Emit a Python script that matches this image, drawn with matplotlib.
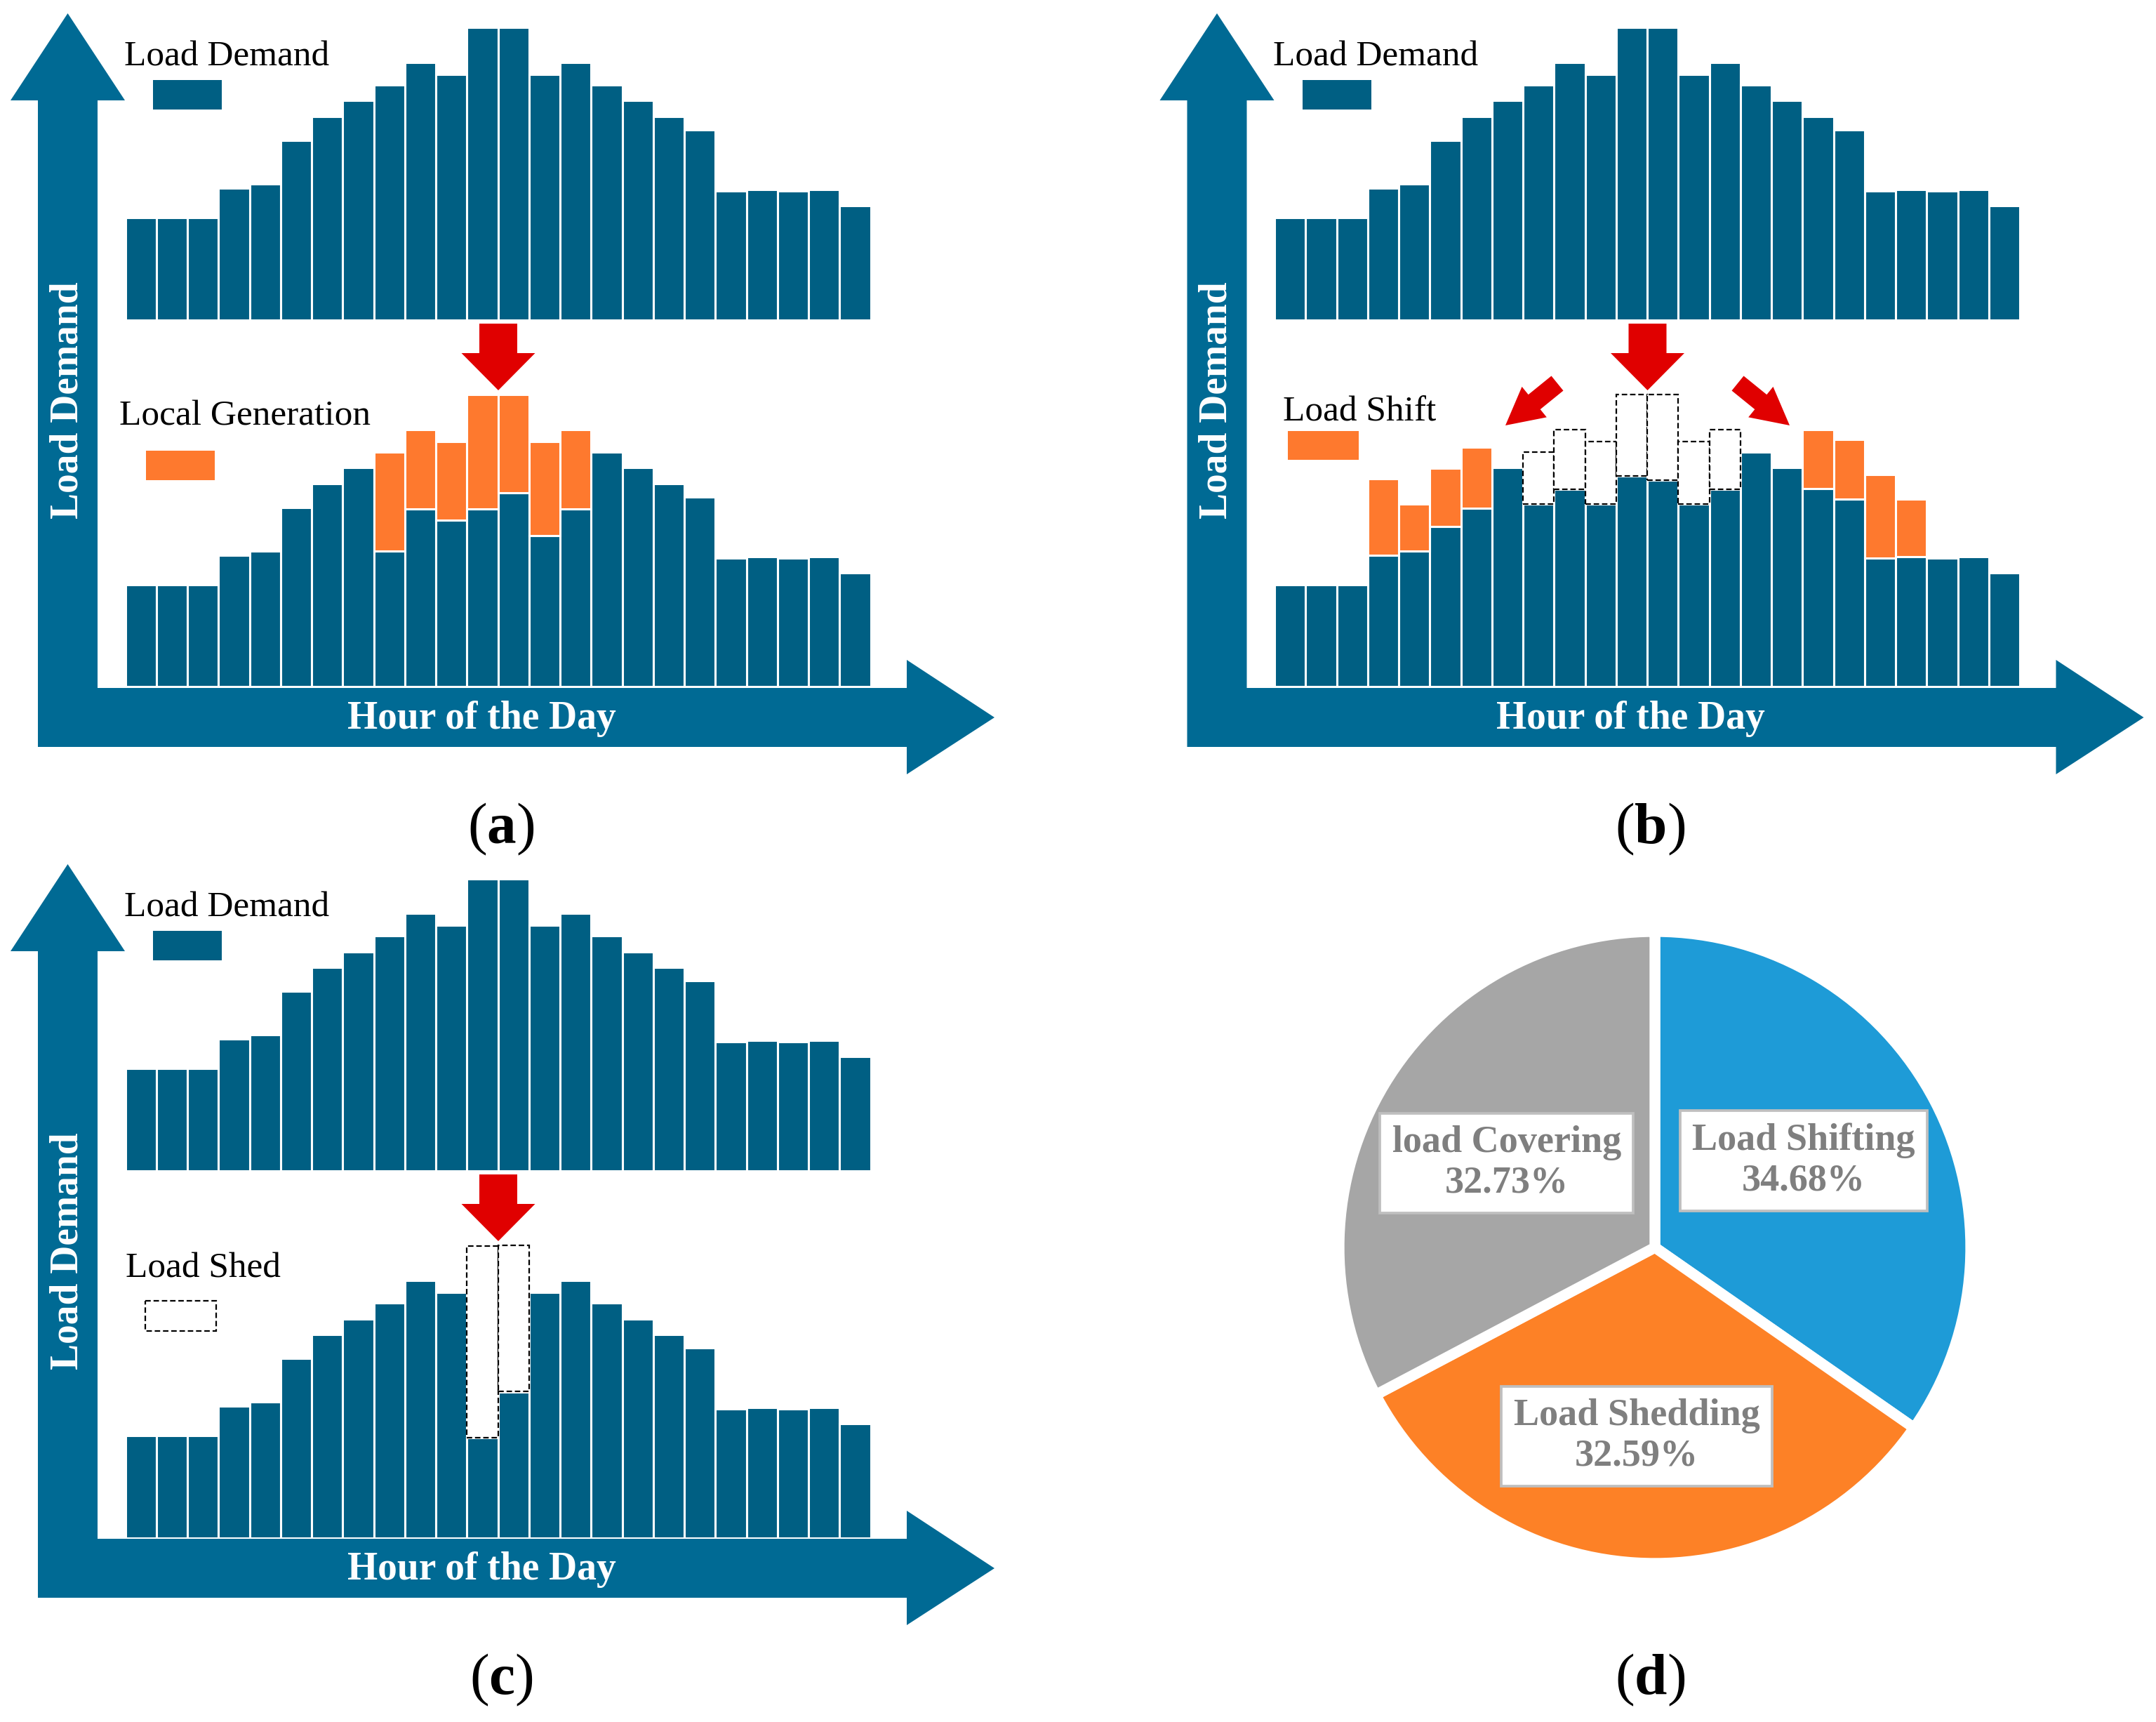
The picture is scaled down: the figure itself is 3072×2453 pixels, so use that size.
import matplotlib
matplotlib.use('Agg')
import matplotlib.pyplot as plt
from matplotlib.patches import Polygon, Rectangle, FancyArrow
import numpy as np

plt.rcParams['font.family'] = ['Liberation Serif', 'DejaVu Serif']
plt.rcParams['mathtext.fontset'] = 'custom'
plt.rcParams['mathtext.rm'] = 'Liberation Serif'
plt.rcParams['mathtext.bf'] = 'Liberation Serif:bold'

# ---- data (relative load, peak = 100) ----
hours = np.arange(24)
load_demand = [35, 35, 35, 45, 46.5, 61.5, 69.5, 75, 80.5, 88, 84, 100,
               100, 84, 88, 80.5, 75, 69.5, 65, 44, 44.5, 44, 44.5, 39]

# (a) load left after local generation covers part of the peak
net_load_a = [35, 35, 35, 45, 46.5, 61.5, 69.5, 75, 46.5, 61, 57.2, 61,
              66.4, 51.8, 61, 80.5, 75, 69.5, 65, 44, 44.5, 44, 44.5, 39]

# (b) load after shifting; moved-in load (orange) and moved-out load (dashed)
shifted_load_b = [35, 35, 35, 45, 46.5, 55, 61.2, 75, 62.7, 67.6, 62.7, 72.2,
                  70.7, 62.7, 67.6, 80.5, 75, 67.8, 64.4, 44, 44.5, 44, 44.5, 39]
shift_in_b = [0, 0, 0, 26.2, 16.2, 19.9, 20.8, 0, 0, 0, 0, 0,
              0, 0, 0, 0, 0, 20.2, 20.3, 28.8, 19.7, 0, 0, 0]
shift_out_b = [0, 0, 0, 0, 0, 0, 0, 0, 17.8, 20.4, 21.3, 27.8,
               29.3, 21.3, 20.4, 0, 0, 0, 0, 0, 0, 0, 0, 0]

# (c) load after shedding
shed_load_c = [35, 35, 35, 45, 46.5, 61.5, 69.5, 75, 80.5, 88, 84, 34.2,
               50, 84, 88, 80.5, 75, 69.5, 65, 44, 44.5, 44, 44.5, 39]

# (d) share of strategies
pie_names = ['Load Shifting', 'Load Shedding', 'load Covering']
pie_shares = [34.68, 32.59, 32.73]

# ---- style ----
AXIS_C = '#006A94'
BAR_C = '#005F83'
ORANGE = '#FE792E'
RED = '#E00000'
PIE_COLORS = ['#1E9BD7', '#FD8126', '#A6A6A6']

W, H = 3072, 2453
PITCH = 44.25      # px per hour
UNIT = 4.16        # px per load unit

fig = plt.figure(figsize=(W / 100, H / 100), dpi=100)
ov = fig.add_axes([0, 0, 1, 1])
ov.set_xlim(0, W)
ov.set_ylim(H, 0)
ov.axis('off')


def bar_axes(x0, base_y):
    ax = fig.add_axes([x0 / W, 1 - base_y / H, 24 * PITCH / W, 105 * UNIT / H])
    ax.set_xlim(-0.5, 23.5)
    ax.set_ylim(0, 105)
    ax.axis('off')
    return ax


def frame(dx, dy):
    pts = [(54, 1064), (54, 143), (15, 143), (96.5, 19), (178, 143), (139, 143),
           (139, 980), (1292, 980), (1292, 940), (1417, 1022), (1292, 1103), (1292, 1064)]
    ov.add_patch(Polygon([(x + dx, y + dy) for x, y in pts], closed=True,
                         facecolor=AXIS_C, edgecolor='none'))
    ov.text(96.5 + dx, 570 + dy, 'Load Demand', rotation=90, color='white',
            fontsize=40, fontweight='bold', ha='center', va='center')
    ov.text(686 + dx, 1038 + dy, 'Hour of the Day', color='white',
            fontsize=40, fontweight='bold', ha='center', va='baseline')
    ov.text(177 + dx, 94 + dy, 'Load Demand', fontsize=37, ha='left', va='baseline')
    ov.add_patch(Rectangle((218 + dx, 114 + dy), 98, 42, facecolor=BAR_C, edgecolor='none'))
    ov.add_patch(FancyArrow(710 + dx, 461 + dy, 0, 95, width=54, head_width=105,
                            head_length=53, length_includes_head=True,
                            facecolor=RED, edgecolor='none'))
    top = bar_axes(178.5 + dx, 455.5 + dy)
    top.bar(hours, load_demand, width=1, color=BAR_C, edgecolor='white', linewidth=2.2)
    bot = bar_axes(178.5 + dx, 978.5 + dy)
    return bot


def panel_tag(x, y, letter):
    ov.text(x, y, '(' + r'$\mathbf{' + letter + '}$' + ')', fontsize=60,
            ha='center', va='baseline')


dash = dict(facecolor='white', edgecolor='black', linewidth=1.6, linestyle=(0, (3.5, 1.8)))

# (a) local generation
ax = frame(0, 0)
gen_a = np.array(load_demand) - np.array(net_load_a)
ax.bar(hours, net_load_a, width=1, color=BAR_C, edgecolor='white', linewidth=2.2)
mask = gen_a > 0
ax.bar(hours[mask], gen_a[mask], bottom=np.array(net_load_a)[mask], width=1,
       color=ORANGE, edgecolor='white', linewidth=2.2)
ov.text(170, 606, 'Local Generation', fontsize=37, ha='left', va='baseline')
ov.add_patch(Rectangle((208, 642), 98, 42, facecolor=ORANGE, edgecolor='none'))
panel_tag(714, 1201, 'a')

# (b) load shift
DX = 1637.5
ax = frame(DX, 0)
ax.bar(hours, shifted_load_b, width=1, color=BAR_C, edgecolor='white', linewidth=2.2)
sin_b = np.array(shift_in_b)
sout_b = np.array(shift_out_b)
m_in = sin_b > 0
ax.bar(hours[m_in], sin_b[m_in], bottom=np.array(shifted_load_b)[m_in], width=1,
       color=ORANGE, edgecolor='white', linewidth=2.2)
m_out = sout_b > 0
ax.bar(hours[m_out], sout_b[m_out], bottom=np.array(shifted_load_b)[m_out], width=1, **dash)
ov.text(190 + DX, 600, 'Load Shift', fontsize=37, ha='left', va='baseline')
ov.add_patch(Rectangle((197 + DX, 614), 101, 41, facecolor=ORANGE, edgecolor='none'))
for tail_x, tip_x in [(2219, 2145), (2476, 2550)]:
    ov.add_patch(FancyArrow(tail_x, 546, tip_x - tail_x, 606 - 546, width=27,
                            head_width=56, head_length=53, length_includes_head=True,
                            facecolor=RED, edgecolor='none'))
panel_tag(714 + DX, 1201, 'b')

# (c) load shed
DY = 1212
ax = frame(0, DY)
ax.bar(hours, shed_load_c, width=1, color=BAR_C, edgecolor='white', linewidth=2.2)
shed_c = np.array(load_demand) - np.array(shed_load_c)
m_sh = shed_c > 0
ax.bar(hours[m_sh], shed_c[m_sh], bottom=np.array(shed_load_c)[m_sh], width=1, **dash)
ov.text(179, 608 + DY, 'Load Shed', fontsize=37, ha='left', va='baseline')
ov.add_patch(Rectangle((207, 641 + DY), 101, 43, **dash))
panel_tag(714, 1201 + DY, 'c')

# (d) pie
cx, cy, R = 2358, 1777, 450
axp = fig.add_axes([(cx - R) / W, 1 - (cy + R) / H, 2 * R / W, 2 * R / H])
wedges, _ = axp.pie(pie_shares, colors=PIE_COLORS, startangle=90, counterclock=False,
                    radius=1.0, wedgeprops=dict(edgecolor='white', linewidth=11))
axp.set_xlim(-1, 1)
axp.set_ylim(-1, 1)
axp.axis('off')
label_dist = [0.545, 0.60, 0.54]
label_turn = [2.7, -2.0, 1.4]
for w, name, share, d, t in zip(wedges, pie_names, pie_shares, label_dist, label_turn):
    ang = np.deg2rad((w.theta1 + w.theta2) / 2 + t)
    axp.text(d * np.cos(ang), d * np.sin(ang), f'{name}\n{share:.2f}%',
             fontsize=39, fontweight='bold', color='#7F7F7F', ha='center', va='center',
             multialignment='center', linespacing=1.2,
             bbox=dict(boxstyle='square,pad=0.32', facecolor='white',
                       edgecolor='#BFBFBF', linewidth=2.7))
panel_tag(714 + DX, 1201 + DY, 'd')

fig.savefig('out.png', dpi=100, facecolor='white')
